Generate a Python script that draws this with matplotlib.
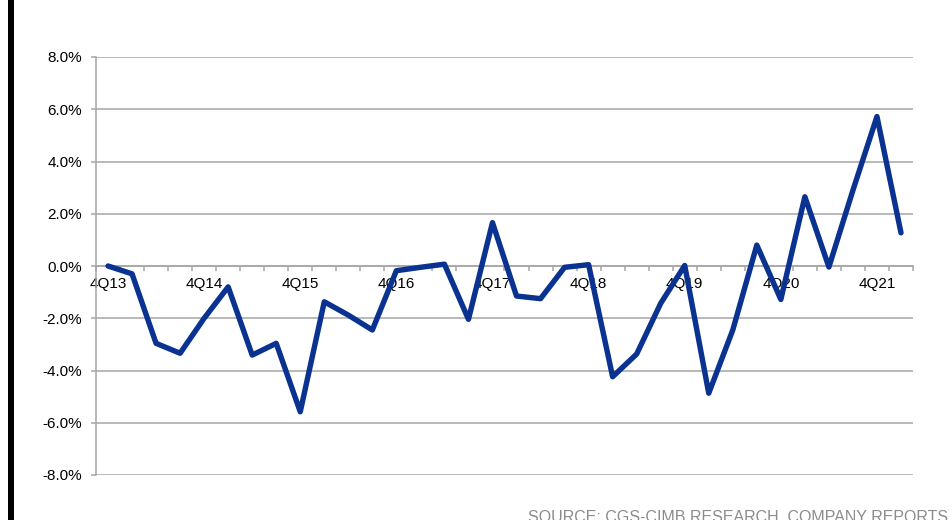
import matplotlib.pyplot as plt
from matplotlib.patches import Rectangle
from matplotlib.ticker import FuncFormatter

plt.rcParams['font.family'] = ['Liberation Sans', 'DejaVu Sans']

# quarterly change, 4Q13 .. 1Q22 (%)
quarters = ['4Q13', '1Q14', '2Q14', '3Q14', '4Q14', '1Q15', '2Q15', '3Q15',
            '4Q15', '1Q16', '2Q16', '3Q16', '4Q16', '1Q17', '2Q17', '3Q17',
            '4Q17', '1Q18', '2Q18', '3Q18', '4Q18', '1Q19', '2Q19', '3Q19',
            '4Q19', '1Q20', '2Q20', '3Q20', '4Q20', '1Q21', '2Q21', '3Q21',
            '4Q21', '1Q22']
change = [0.0, -0.3, -2.96, -3.34, -2.0, -0.8, -3.41, -2.96,
          -5.58, -1.37, -1.88, -2.45, -0.18, -0.05, 0.07, -2.04,
          1.66, -1.15, -1.25, -0.05, 0.05, -4.24, -3.37, -1.43,
          0.02, -4.87, -2.45, 0.8, -1.28, 2.65, -0.04, 2.9,
          5.72, 1.27]
yticks = [-8, -6, -4, -2, 0, 2, 4, 6, 8]
source = 'SOURCE: CGS-CIMB RESEARCH, COMPANY REPORTS'

grey = '#a6a6a6'
navy = '#0a3291'

fig = plt.figure(figsize=(9.52, 5.2), dpi=100)
ax = fig.add_axes([96 / 952, 45 / 520, 817 / 952, 418 / 520])

x = list(range(len(quarters)))
ax.plot(x, change, color=navy, lw=3.9, solid_joinstyle='round',
        solid_capstyle='round', zorder=3)

ax.set_xlim(-0.5, len(quarters) - 0.5)
ax.set_ylim(-8, 8)

# horizontal gridlines
ax.set_yticks(yticks)
ax.yaxis.set_major_formatter(FuncFormatter(lambda v, p: f'{v:.1f}%'))
ax.grid(axis='y', color=grey, lw=1.1)
ax.set_axisbelow(True)

for s in ['top', 'right']:
    ax.spines[s].set_visible(False)
ax.spines['left'].set_color(grey)
ax.spines['left'].set_linewidth(1.1)
ax.spines['bottom'].set_position(('data', 0))
ax.spines['bottom'].set_color(grey)
ax.spines['bottom'].set_linewidth(1.1)

# category labels every 4th quarter, tick marks between categories
ax.set_xticks(x[::4])
ax.set_xticklabels(quarters[::4])
ax.set_xticks([i - 0.5 for i in range(len(quarters) + 1)], minor=True)
ax.tick_params(axis='x', which='major', length=0, pad=8, labelsize=11)
ax.tick_params(axis='x', which='minor', length=3.6, width=1.1, color=grey,
               direction='out')
ax.tick_params(axis='y', length=3.6, width=1.1, color=grey, pad=6.5,
               labelsize=11)

# black bar down the left edge
fig.add_artist(Rectangle((8 / 952, 0), 6 / 952, 1, transform=fig.transFigure,
                         color='black', lw=0))

fig.text(948 / 952, -2 / 520, source, ha='right', va='baseline',
         fontsize=11.5, color='#8c8c8c')

fig.savefig('out.png', dpi=100)
